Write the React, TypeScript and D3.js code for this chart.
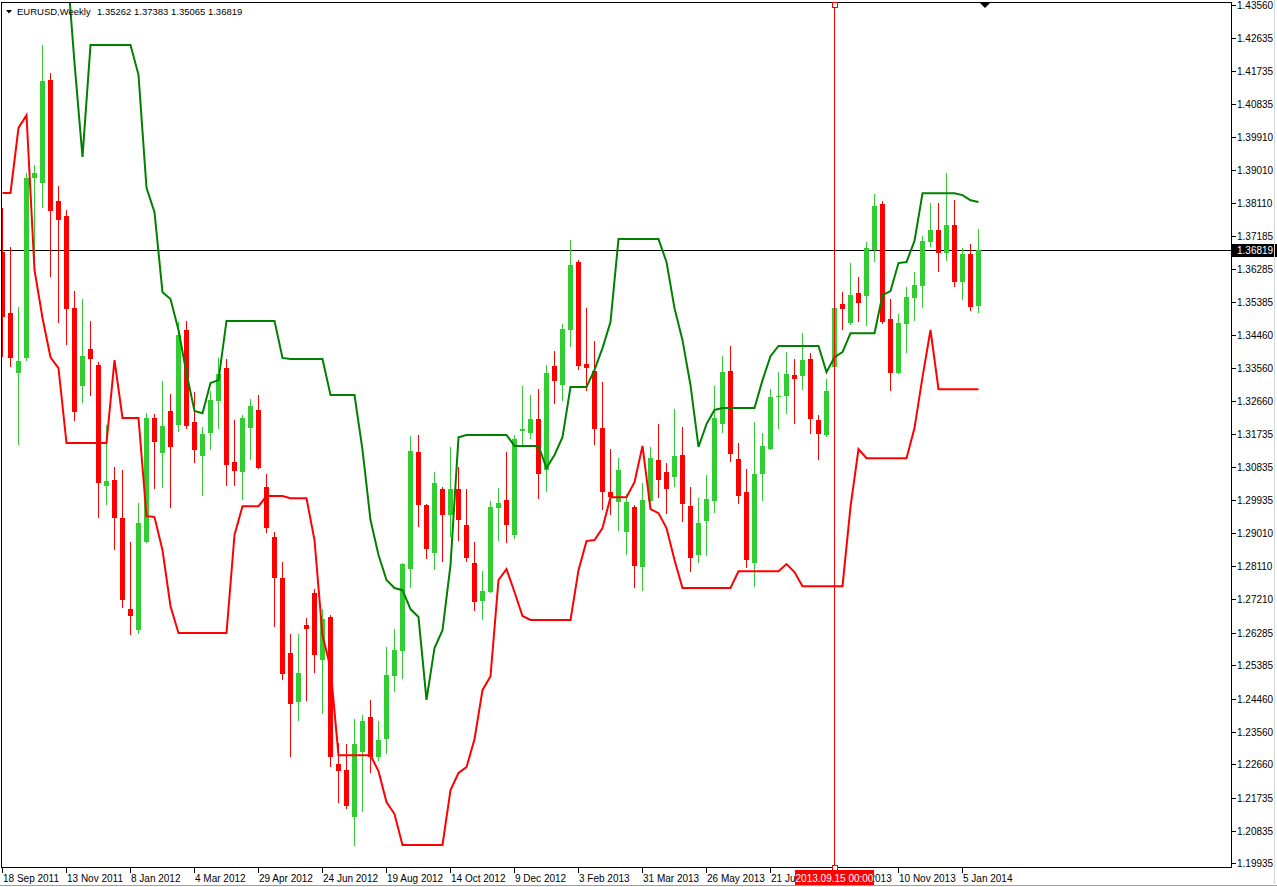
import * as d3 from 'd3'

// weekly EURUSD bars, first bar = week of 18 Sep 2011
const opens = [
  1.3675, 1.3508, 1.3342, 1.3384, 1.3879, 1.3865, 1.4149, 1.3816, 1.3774, 1.3521,
  1.3307, 1.3409, 1.3364, 1.3031, 1.3048, 1.2943, 1.2693, 1.2635, 1.2877, 1.3219,
  1.3122, 1.3238, 1.3199, 1.3461, 1.3208, 1.3114, 1.3177, 1.3265, 1.3356, 1.3097,
  1.3070, 1.3191, 1.3241, 1.3029, 1.2891, 1.2778, 1.2572, 1.2437, 1.2649, 1.2737,
  1.2553, 1.2671, 1.2266, 1.2250, 1.2121, 1.2299, 1.2396, 1.2286, 1.2335, 1.2509,
  1.2577, 1.2803, 1.3125, 1.2979, 1.2847, 1.3023, 1.2952, 1.3023, 1.2924, 1.2819,
  1.2715, 1.2740, 1.2971, 1.2993, 1.2897, 1.3182, 1.3177, 1.3216, 1.3076, 1.3362,
  1.3309, 1.3461, 1.3648, 1.3367, 1.3348, 1.3191, 1.3015, 1.2987, 1.2905, 1.2974,
  1.2808, 1.2990, 1.3103, 1.3070, 1.3056, 1.3117, 1.2976, 1.2842, 1.2935, 1.2990,
  1.3202, 1.3348, 1.3106, 1.3015, 1.2819, 1.3064, 1.3133, 1.3276, 1.3279, 1.3337,
  1.3334, 1.3381, 1.3213, 1.3172, 1.3359, 1.3532, 1.3480, 1.3563, 1.3554, 1.3681,
  1.3807, 1.3491, 1.3342, 1.3477, 1.3549, 1.3582, 1.3703, 1.3736, 1.3673, 1.3750,
  1.3593, 1.3670, 1.35262,
]
const highs = [
  1.3797, 1.3689, 1.3524, 1.3893, 1.3915, 1.4245, 1.4168, 1.3857, 1.3791, 1.3568,
  1.3546, 1.3486, 1.3373, 1.3199, 1.3084, 1.3076, 1.2877, 1.2985, 1.3232, 1.3230,
  1.3320, 1.3285, 1.3483, 1.3486, 1.3290, 1.3194, 1.3293, 1.3384, 1.3381, 1.3213,
  1.3227, 1.3271, 1.3282, 1.3064, 1.2905, 1.2822, 1.2624, 1.2624, 1.2668, 1.2748,
  1.2693, 1.2676, 1.2324, 1.2321, 1.2390, 1.2401, 1.2443, 1.2385, 1.2588, 1.2638,
  1.2821, 1.3169, 1.3172, 1.2982, 1.3070, 1.3029, 1.3139, 1.3084, 1.3023, 1.2877,
  1.2797, 1.2990, 1.3026, 1.3124, 1.3172, 1.3307, 1.3282, 1.3298, 1.3364, 1.3403,
  1.3477, 1.3708, 1.3653, 1.3521, 1.3431, 1.3318, 1.3133, 1.3108, 1.3009, 1.2979,
  1.3040, 1.3139, 1.3202, 1.3095, 1.3243, 1.3194, 1.3029, 1.2998, 1.3062, 1.3307,
  1.3389, 1.3417, 1.3150, 1.3078, 1.3208, 1.3177, 1.3298, 1.3345, 1.3400, 1.3381,
  1.3452, 1.3397, 1.3227, 1.3326, 1.3568, 1.3565, 1.3645, 1.3607, 1.3703, 1.3835,
  1.3816, 1.3546, 1.3505, 1.3579, 1.3620, 1.3719, 1.3810, 1.3810, 1.3893, 1.3818,
  1.3686, 1.3697, 1.37383,
]
const lows = [
  1.3386, 1.3359, 1.3144, 1.3375, 1.3648, 1.3797, 1.3607, 1.3480, 1.3420, 1.3210,
  1.3260, 1.3279, 1.2943, 1.2979, 1.2855, 1.2696, 1.2621, 1.2624, 1.2875, 1.3023,
  1.3026, 1.2971, 1.3180, 1.3188, 1.3095, 1.3004, 1.3131, 1.3188, 1.3031, 1.3031,
  1.2993, 1.3103, 1.3078, 1.2902, 1.2643, 1.2498, 1.2286, 1.2385, 1.2440, 1.2517,
  1.2404, 1.2258, 1.2159, 1.2143, 1.2041, 1.2134, 1.2242, 1.2275, 1.2294, 1.2465,
  1.2500, 1.2751, 1.2919, 1.2831, 1.2800, 1.2822, 1.2891, 1.2880, 1.2822, 1.2687,
  1.2663, 1.2738, 1.2880, 1.2874, 1.2886, 1.3142, 1.3161, 1.2996, 1.3015, 1.3257,
  1.3265, 1.3414, 1.3351, 1.3293, 1.3144, 1.2966, 1.2952, 1.2908, 1.2842, 1.2751,
  1.2742, 1.2985, 1.2998, 1.2954, 1.3029, 1.2933, 1.2794, 1.2819, 1.2839, 1.2957,
  1.3177, 1.3097, 1.2982, 1.2806, 1.2753, 1.2990, 1.3131, 1.3188, 1.3230, 1.3202,
  1.3296, 1.3175, 1.3103, 1.3166, 1.3323, 1.3461, 1.3475, 1.3483, 1.3472, 1.3648,
  1.3477, 1.3293, 1.3340, 1.3398, 1.3486, 1.3521, 1.3689, 1.3620, 1.3651, 1.3579,
  1.3543, 1.3513, 1.35065,
]
const closes = [
  1.3497, 1.3384, 1.3375, 1.3879, 1.3893, 1.4146, 1.3788, 1.3763, 1.3519, 1.3235,
  1.3389, 1.3381, 1.3040, 1.3045, 1.2943, 1.2718, 1.2674, 1.2930, 1.3219, 1.3153,
  1.3197, 1.3139, 1.3447, 1.3197, 1.3131, 1.3175, 1.3268, 1.3340, 1.3089, 1.3073,
  1.3219, 1.3252, 1.3081, 1.2916, 1.2778, 1.2514, 1.2432, 1.2517, 1.2638, 1.2566,
  1.2666, 1.2286, 1.2247, 1.2152, 1.2321, 1.2385, 1.2286, 1.2332, 1.2511, 1.2580,
  1.2817, 1.3128, 1.2979, 1.2858, 1.3040, 1.2952, 1.3023, 1.2938, 1.2833, 1.2712,
  1.2742, 1.2974, 1.2985, 1.2924, 1.3161, 1.3188, 1.3216, 1.3064, 1.3342, 1.3320,
  1.3463, 1.3640, 1.3362, 1.3356, 1.3188, 1.3015, 1.3001, 1.3076, 1.2987, 1.2811,
  1.2993, 1.3108, 1.3048, 1.3023, 1.3114, 1.2982, 1.2833, 1.2930, 1.2996, 1.3219,
  1.3345, 1.3119, 1.3004, 1.2828, 1.3064, 1.3142, 1.3276, 1.3279, 1.3340, 1.3326,
  1.3378, 1.3216, 1.3175, 1.3293, 1.3521, 1.3519, 1.3557, 1.3535, 1.3686, 1.3802,
  1.3483, 1.3342, 1.3480, 1.3552, 1.3585, 1.3706, 1.3736, 1.3673, 1.3750, 1.3593,
  1.3670, 1.3524, 1.36819,
]

// channel indicator: upper (green) and lower (red) lines
const upperBand = [
  null, null, null, null, null, null, null, null, 1.4482, 1.4196,
  1.3937, 1.4245, 1.4245, 1.4245, 1.4245, 1.4245, 1.4245, 1.4163, 1.3852, 1.3785,
  1.3565, 1.3546, 1.3461, 1.3342, 1.3238, 1.3232, 1.3315, 1.3323, 1.3486, 1.3486,
  1.3486, 1.3486, 1.3486, 1.3486, 1.3486, 1.3384, 1.3381, 1.3381, 1.3381, 1.3381,
  1.3381, 1.3282, 1.3282, 1.3282, 1.3282, 1.3131, 1.2938, 1.2842, 1.2773, 1.2751,
  1.2745, 1.2693, 1.2671, 1.2443, 1.2586, 1.2635, 1.2814, 1.3166, 1.3172, 1.3172,
  1.3172, 1.3172, 1.3172, 1.3172, 1.3142, 1.3142, 1.3142, 1.3142, 1.3081, 1.3117,
  1.3166, 1.3304, 1.3304, 1.3304, 1.3351, 1.3411, 1.3483, 1.3711, 1.3711, 1.3711,
  1.3711, 1.3711, 1.3711, 1.3648, 1.3521, 1.3433, 1.3309, 1.3139, 1.3202, 1.3241,
  1.3246, 1.3246, 1.3246, 1.3246, 1.3246, 1.3323, 1.3389, 1.3417, 1.3417, 1.3417,
  1.3417, 1.3417, 1.3417, 1.3345, 1.3386, 1.3400, 1.3452, 1.3452, 1.3452, 1.3452,
  1.3557, 1.3568, 1.3645, 1.3648, 1.3706, 1.3837, 1.3837, 1.3837, 1.3837, 1.3837,
  1.3832, 1.3818, 1.3813,
]
const lowerBand = [
  1.3838, 1.3838, 1.4017, 1.4052, 1.3626, 1.3494, 1.3386, 1.3356, 1.3150, 1.3150,
  1.3150, 1.3150, 1.3150, 1.3150, 1.3378, 1.3219, 1.3219, 1.3219, 1.2949, 1.2946,
  1.2855, 1.2701, 1.2627, 1.2627, 1.2627, 1.2627, 1.2627, 1.2627, 1.2627, 1.2897,
  1.2976, 1.2976, 1.2976, 1.3004, 1.3004, 1.3004, 1.2998, 1.2998, 1.2998, 1.2883,
  1.2621, 1.2531, 1.2291, 1.2291, 1.2291, 1.2291, 1.2291, 1.2247, 1.2162, 1.2129,
  1.2044, 1.2044, 1.2044, 1.2044, 1.2044, 1.2044, 1.2195, 1.2242, 1.2258, 1.2335,
  1.2470, 1.2508, 1.2773, 1.2803, 1.2740, 1.2674, 1.2663, 1.2663, 1.2663, 1.2663,
  1.2663, 1.2663, 1.2800, 1.2880, 1.2883, 1.2916, 1.3001, 1.3001, 1.3001, 1.3042,
  1.3142, 1.2968, 1.2957, 1.2916, 1.2828, 1.2751, 1.2751, 1.2751, 1.2751, 1.2751,
  1.2751, 1.2751, 1.2797, 1.2797, 1.2797, 1.2797, 1.2797, 1.2797, 1.2817, 1.2795,
  1.2756, 1.2756, 1.2756, 1.2756, 1.2756, 1.2756, 1.2974, 1.3133, 1.3108, 1.3108,
  1.3108, 1.3108, 1.3108, 1.3108, 1.3191, 1.3331, 1.3461, 1.3298, 1.3298, 1.3298,
  1.3298, 1.3298, 1.3298,
]

const dateLabels = [
  '18 Sep 2011', '13 Nov 2011', '8 Jan 2012', '4 Mar 2012', '29 Apr 2012', '24 Jun 2012',
  '19 Aug 2012', '14 Oct 2012', '9 Dec 2012', '3 Feb 2013', '31 Mar 2013', '26 May 2013',
  '21 Jul 2013', '15 Sep 2013', '10 Nov 2013', '5 Jan 2014',
]
const barsPerLabel = 8

const priceTicks = [
  1.43560, 1.42635, 1.41735, 1.40835, 1.39910, 1.39010, 1.38110, 1.37185, 1.36285,
  1.35385, 1.34460, 1.33560, 1.32660, 1.31735, 1.30835, 1.29935, 1.29010, 1.28110,
  1.27210, 1.26285, 1.25385, 1.24460, 1.23560, 1.22660, 1.21735, 1.20835, 1.19935,
]

const symbolName = 'EURUSD,Weekly'
const lastPrice = 1.36819
const cursorBar = 104
const cursorText = '2013.09.15 00:00'

const W = 1277
const H = 887
const frame = { left: 1.5, top: 2.5, right: 1231.5, bottom: 867.5 }
const font = "'Liberation Sans', Arial, sans-serif"
const UP = '#32CD32'
const DOWN = '#FF0000'

export default function App() {
  const n = opens.length
  const x = d3.scaleLinear().domain([0, n - 1]).range([2.5, 2.5 + 8 * (n - 1)])
  const y = d3.scaleLinear().domain([1.19935, 1.4356]).range([863.3, 4.7])

  const bandLine = d3.line<number | null>()
    .defined(d => d != null)
    .x((_, i) => x(i))
    .y(d => y(d as number))

  const lastY = Math.round(y(lastPrice)) + 0.5
  const cx = x(cursorBar)
  const last = n - 1

  return (
    <div style={{ position: 'fixed', left: 0, top: 0 }}>
      <svg width={W} height={H} style={{ display: 'block', fontFamily: font }}>
        <rect width={W} height={H} fill="#fff" />
        <defs>
          <clipPath id="plot">
            <rect x={frame.left} y={frame.top} width={frame.right - frame.left} height={frame.bottom - frame.top} />
          </clipPath>
        </defs>

        {/* current price line */}
        <line x1={0} x2={frame.right} y1={lastY} y2={lastY} stroke="#000" />

        <g clipPath="url(#plot)">
          {opens.map((o, i) => {
            const c = closes[i]
            const col = c >= o ? UP : DOWN
            const top = Math.round(y(Math.max(o, c)))
            const bot = Math.round(y(Math.min(o, c)))
            return (
              <g key={i} shapeRendering="crispEdges">
                <line x1={x(i)} x2={x(i)} y1={Math.round(y(highs[i]))} y2={Math.round(y(lows[i]))} stroke={col} />
                <rect x={x(i) - 2.5} width={5} y={top} height={Math.max(1, bot - top)} fill={col} />
              </g>
            )
          })}
          <path d={bandLine(upperBand) ?? ''} fill="none" stroke="#008000" strokeWidth={2} />
          <path d={bandLine(lowerBand) ?? ''} fill="none" stroke="#FF0000" strokeWidth={2} />
        </g>

        {/* frame */}
        <rect x={frame.left} y={frame.top} width={frame.right - frame.left} height={frame.bottom - frame.top}
          fill="none" stroke="#000" shapeRendering="crispEdges" />

        {/* price axis */}
        {priceTicks.map(p => {
          const ty = Math.round(y(p)) + 0.5
          return (
            <g key={p}>
              <line x1={frame.right} x2={frame.right + 4} y1={ty} y2={ty} stroke="#000" shapeRendering="crispEdges" />
              <text x={1237} y={ty + 3.5} fontSize={10} fill="#000">{p.toFixed(5)}</text>
            </g>
          )
        })}
        <rect x={frame.right + 0.5} y={lastY - 6.5} width={W - frame.right} height={13} fill="#000" />
        <text x={1237} y={lastY + 3.5} fontSize={10} fill="#fff">{lastPrice.toFixed(5)}</text>

        {/* time axis */}
        {dateLabels.map((lab, k) => {
          const tx = x(k * barsPerLabel)
          return (
            <g key={lab}>
              <line x1={tx} x2={tx} y1={frame.bottom} y2={frame.bottom + 5} stroke="#000" shapeRendering="crispEdges" />
              <text x={tx + 0.5} y={882} fontSize={10} fill="#000">{lab}</text>
            </g>
          )
        })}

        {/* crosshair cursor */}
        <line x1={cx} x2={cx} y1={frame.top} y2={frame.bottom} stroke="#FF0000" shapeRendering="crispEdges" />
        <rect x={cx - 2.5} y={frame.top} width={5} height={5} fill="#fff" stroke="#FF0000" shapeRendering="crispEdges" />
        <rect x={cx - 2.5} y={frame.bottom - 2.5} width={5} height={5} fill="#fff" stroke="#FF0000" shapeRendering="crispEdges" />
        <rect x={cx - 39.5} y={870} width={79} height={15} fill="#FF0000" />
        <text x={cx} y={882} fontSize={10} fill="#fff" textAnchor="middle">{cursorText}</text>

        {/* header */}
        <path d="M6,10 L12,10 L9,13.5 Z" fill="#000" />
        <text x={17} y={15} fontSize={9.5} fill="#000">{symbolName}</text>
        <text x={97} y={15} fontSize={9.5} fill="#000">
          {[opens[last], highs[last], lows[last], closes[last]].map(v => v.toFixed(5)).join(' ')}
        </text>

        {/* chart shift marker */}
        <path d="M980,3 L990,3 L985,8 Z" fill="#000" />

        {/* window edges */}
        <line x1={0} x2={W} y1={885.5} y2={885.5} stroke="#a0a0a0" />
        <line x1={1274.5} x2={1274.5} y1={0} y2={886} stroke="#d8d8d8" />
      </svg>
    </div>
  )
}
